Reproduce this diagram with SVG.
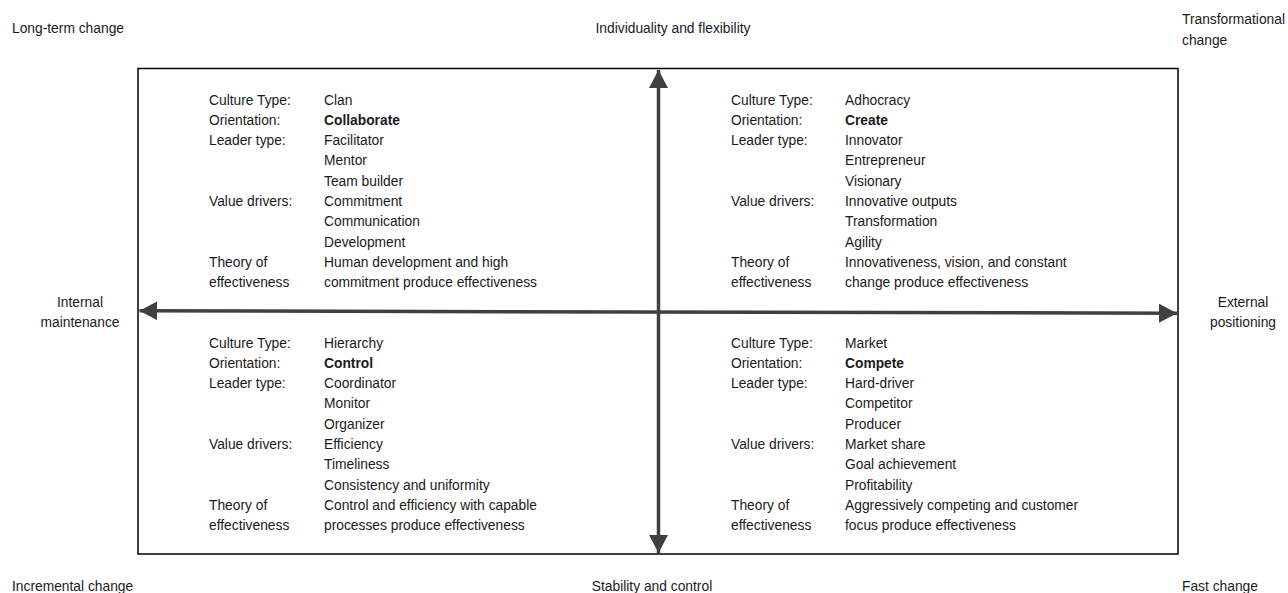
<svg xmlns="http://www.w3.org/2000/svg" width="1288" height="593" viewBox="0 0 1288 593">
<style>
text{font-family:"Liberation Sans",Arial,sans-serif;font-size:13.8px;fill:#1a1a1a}
.b{font-weight:bold}
.m{text-anchor:middle}
.ax{stroke:#404040;stroke-width:3.5;fill:none}
</style>
<defs>
<marker id="ah" viewBox="0 0 18 19" refX="18" refY="9.5" markerWidth="18" markerHeight="19" markerUnits="userSpaceOnUse" orient="auto-start-reverse">
<path d="M0,0 L18,9.5 L0,19 z" fill="#404040"/>
</marker>
</defs>
<rect width="1288" height="593" fill="#fff"/>
<g id="frame"><rect x="138" y="68.5" width="1040" height="485.5" fill="none" stroke="#000" stroke-width="1.5"/></g>
<g id="connectors">
<line class="ax" x1="658.5" y1="70" x2="658.5" y2="553" marker-start="url(#ah)" marker-end="url(#ah)"/>
<line class="ax" x1="139.5" y1="310.8" x2="1177" y2="313.2" marker-start="url(#ah)" marker-end="url(#ah)"/>
</g>
<g id="corner-labels">
<text x="12" y="33">Long-term change</text>
<text class="m" x="673" y="33">Individuality and flexibility</text>
<text x="1182" y="24">Transformational</text>
<text x="1182" y="45">change</text>
<text class="m" x="80" y="307">Internal</text>
<text class="m" x="80" y="327">maintenance</text>
<text class="m" x="1243" y="307">External</text>
<text class="m" x="1243" y="327">positioning</text>
<text x="12" y="591">Incremental change</text>
<text class="m" x="652" y="591">Stability and control</text>
<text x="1182" y="591">Fast change</text>
</g>
<g id="clan">
<text x="209" y="104.5">Culture Type:</text><text x="324" y="104.5">Clan</text>
<text x="209" y="124.8">Orientation:</text><text class="b" x="324" y="124.8">Collaborate</text>
<text x="209" y="145.1">Leader type:</text><text x="324" y="145.1">Facilitator</text>
<text x="324" y="165.4">Mentor</text>
<text x="324" y="185.7">Team builder</text>
<text x="209" y="206">Value drivers:</text><text x="324" y="206">Commitment</text>
<text x="324" y="226.3">Communication</text>
<text x="324" y="246.6">Development</text>
<text x="209" y="266.9">Theory of</text><text x="324" y="266.9">Human development and high</text>
<text x="209" y="287.2">effectiveness</text><text x="324" y="287.2">commitment produce effectiveness</text>
</g>
<g id="adhocracy">
<text x="731" y="104.5">Culture Type:</text><text x="845" y="104.5">Adhocracy</text>
<text x="731" y="124.8">Orientation:</text><text class="b" x="845" y="124.8">Create</text>
<text x="731" y="145.1">Leader type:</text><text x="845" y="145.1">Innovator</text>
<text x="845" y="165.4">Entrepreneur</text>
<text x="845" y="185.7">Visionary</text>
<text x="731" y="206">Value drivers:</text><text x="845" y="206">Innovative outputs</text>
<text x="845" y="226.3">Transformation</text>
<text x="845" y="246.6">Agility</text>
<text x="731" y="266.9">Theory of</text><text x="845" y="266.9">Innovativeness, vision, and constant</text>
<text x="731" y="287.2">effectiveness</text><text x="845" y="287.2">change produce effectiveness</text>
</g>
<g id="hierarchy">
<text x="209" y="347.5">Culture Type:</text><text x="324" y="347.5">Hierarchy</text>
<text x="209" y="367.8">Orientation:</text><text class="b" x="324" y="367.8">Control</text>
<text x="209" y="388.1">Leader type:</text><text x="324" y="388.1">Coordinator</text>
<text x="324" y="408.4">Monitor</text>
<text x="324" y="428.7">Organizer</text>
<text x="209" y="449">Value drivers:</text><text x="324" y="449">Efficiency</text>
<text x="324" y="469.3">Timeliness</text>
<text x="324" y="489.6">Consistency and uniformity</text>
<text x="209" y="509.9">Theory of</text><text x="324" y="509.9">Control and efficiency with capable</text>
<text x="209" y="530.2">effectiveness</text><text x="324" y="530.2">processes produce effectiveness</text>
</g>
<g id="market">
<text x="731" y="347.5">Culture Type:</text><text x="845" y="347.5">Market</text>
<text x="731" y="367.8">Orientation:</text><text class="b" x="845" y="367.8">Compete</text>
<text x="731" y="388.1">Leader type:</text><text x="845" y="388.1">Hard-driver</text>
<text x="845" y="408.4">Competitor</text>
<text x="845" y="428.7">Producer</text>
<text x="731" y="449">Value drivers:</text><text x="845" y="449">Market share</text>
<text x="845" y="469.3">Goal achievement</text>
<text x="845" y="489.6">Profitability</text>
<text x="731" y="509.9">Theory of</text><text x="845" y="509.9">Aggressively competing and customer</text>
<text x="731" y="530.2">effectiveness</text><text x="845" y="530.2">focus produce effectiveness</text>
</g>
</svg>
